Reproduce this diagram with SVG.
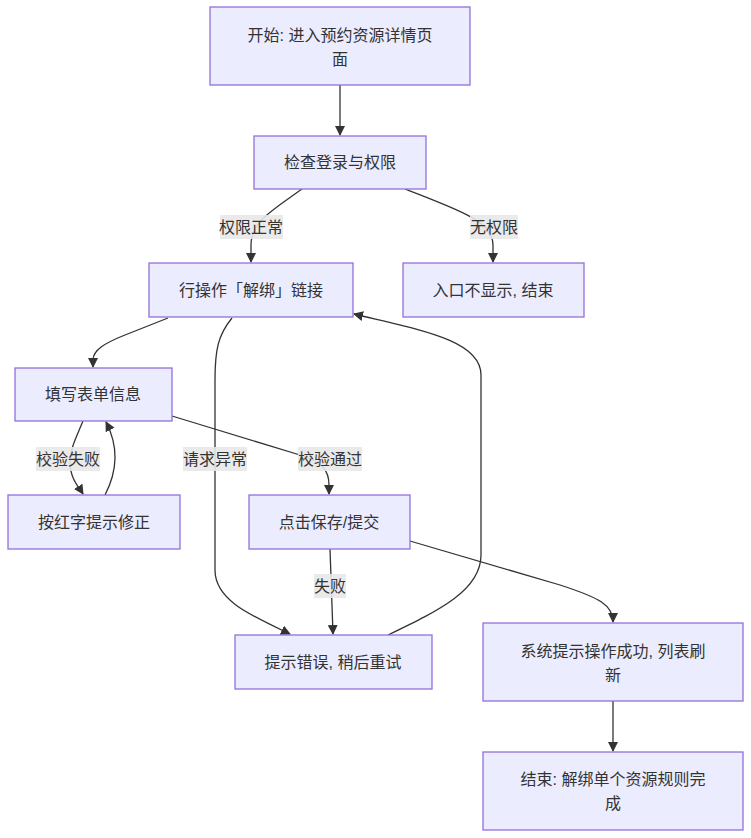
<svg xmlns="http://www.w3.org/2000/svg" width="751" height="838" viewBox="0 0 751 838">
<style>
.node rect{fill:#ECECFF;stroke:#9370DB;stroke-width:1.3}
text{font-family:"Liberation Sans","Noto Sans CJK SC",sans-serif;font-size:16px;fill:#333;text-anchor:middle;dominant-baseline:central}
.edges path{fill:none;stroke:#333;stroke-width:1.3}
.lbl rect{fill:#e8e8e8;opacity:0.9}
</style>
<defs>
<marker id="arr" viewBox="0 0 10 10" refX="9" refY="5" markerUnits="userSpaceOnUse" markerWidth="10" markerHeight="10" orient="auto">
<path d="M0,0 L10,5 L0,10 z" fill="#333"/>
</marker>
</defs>
<rect width="751" height="838" fill="#fff"/>
<g class="edges">
<path d="M340,85 L340,135" marker-end="url(#arr)"/>
<path d="M302,189 C270,212 251,222 251,245 L251,262" marker-end="url(#arr)"/>
<path d="M405,189 C460,210 493,222 493,245 L493,262" marker-end="url(#arr)"/>
<path d="M168,318 L125,335 C105,343 93,350 93,360 L93,367" marker-end="url(#arr)"/>
<path d="M232,318 C218,335 215,350 215,380 L215,570 C215,600 250,615 290,634" marker-end="url(#arr)"/>
<path d="M388,635 C440,610 481,590 481,555 L481,375 C481,340 420,330 354,314" marker-end="url(#arr)"/>
<path d="M83,421 C75,440 70,450 70,462 C70,478 78,486 83,494" marker-end="url(#arr)"/>
<path d="M105,495 C118,470 118,445 106,422" marker-end="url(#arr)"/>
<path d="M172,416 L300,455 C322,462 329,470 329,485 L329,494" marker-end="url(#arr)"/>
<path d="M330,549 L333,634" marker-end="url(#arr)"/>
<path d="M410,541 L560,585 C600,598 613,605 613,622" marker-end="url(#arr)"/>
<path d="M613,701 L613,751" marker-end="url(#arr)"/>
</g>
<g class="lbl">
<rect x="220" y="215" width="63" height="24"/><text x="251" y="227">权限正常</text>
<rect x="470" y="215" width="48" height="24"/><text x="494" y="227">无权限</text>
<rect x="183" y="447" width="64" height="24"/><text x="215" y="459">请求异常</text>
<rect x="36" y="447" width="64" height="24"/><text x="68" y="459">校验失败</text>
<rect x="298" y="447" width="64" height="24"/><text x="330" y="459">校验通过</text>
<rect x="314" y="574" width="32" height="24"/><text x="330" y="586">失败</text>
</g>
<g id="start" class="node"><rect x="210" y="7" width="260" height="78"/><text x="340" y="35">开始: 进入预约资源详情页</text><text x="340" y="59">面</text></g>
<g id="check" class="node"><rect x="254" y="136" width="172" height="53"/><text x="340" y="162">检查登录与权限</text></g>
<g id="unbind" class="node"><rect x="149" y="263" width="204" height="54"/><text x="251" y="290">行操作「解绑」链接</text></g>
<g id="noauth" class="node"><rect x="403" y="263" width="181" height="54"/><text x="493" y="290">入口不显示, 结束</text></g>
<g id="fill" class="node"><rect x="15" y="368" width="157" height="53"/><text x="93" y="394">填写表单信息</text></g>
<g id="fix" class="node"><rect x="8" y="495" width="172" height="54"/><text x="94" y="522">按红字提示修正</text></g>
<g id="submit" class="node"><rect x="249" y="495" width="161" height="54"/><text x="329" y="522">点击保存/提交</text></g>
<g id="error" class="node"><rect x="235" y="635" width="197" height="54"/><text x="333" y="662">提示错误, 稍后重试</text></g>
<g id="success" class="node"><rect x="483" y="623" width="260" height="78"/><text x="613" y="651">系统提示操作成功, 列表刷</text><text x="613" y="675">新</text></g>
<g id="end" class="node"><rect x="483" y="752" width="260" height="78"/><text x="613" y="779">结束: 解绑单个资源规则完</text><text x="613" y="803">成</text></g>
</svg>
